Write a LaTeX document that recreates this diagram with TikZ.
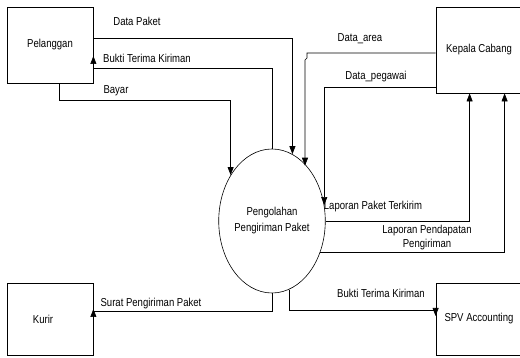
\documentclass[tikz,border=0pt]{standalone}
\usepackage{fontspec}
\setmainfont[FakeStretch=0.83]{Liberation Sans}
\usetikzlibrary{shapes.geometric,arrows.meta,calc}
\begin{document}
\begin{tikzpicture}[x=1pt,y=-1pt,
  every node/.style={font=\fontsize{11.5}{14}\selectfont},
  entity/.style={draw,line width=0.8pt,rectangle,inner sep=0pt},
  proc/.style={draw,line width=0.6pt,ellipse,inner sep=0pt,minimum width=102pt,minimum height=144pt,align=center,font=\fontsize{11.5}{16}\selectfont},
  flow/.style={line width=0.7pt},
  arr/.style={line width=0.7pt,-{Triangle[length=8pt,width=6pt]}},
  lbl/.style={inner sep=0pt}]
\useasboundingbox (0,0) rectangle (520,358);
\clip (0,0) rectangle (520,358);
\fill[white] (0,0) rectangle (520,358);
% entities
\node[entity,minimum width=86pt,minimum height=76pt] (pel) at (50,45) {Pelanggan};
\node[entity,minimum width=86pt,minimum height=86pt] (kep) at (479,50) {Kepala Cabang};
\node[entity,minimum width=86pt,minimum height=72pt] (kur) at (50,319) {\hspace*{-14pt}Kurir};
\node[entity,minimum width=86pt,minimum height=72pt] (spv) at (479,319) {SPV Accounting};
\node[proc] (p) at (272,221) {Pengolahan\\Pengiriman Paket};
% flows
\draw[arr] (pel.east |- 0,38) -| (p.73);
\draw[arr] (p.north) |- (pel.east |- 0,68) -- ($(pel.east)+(0,11)$);
\draw[arr] ($(pel.south)+(9,0)$) -- ++(0,17) -| (p.132);
\draw[arr] (kep.west |- 0,53) -- (307,53) -- (307,58) -- (305,60) -- (p.58 -| 305,0);
\draw[arr] (kep.west |- 0,87) -| (p.17);
\draw[arr] (p.east) -| ($(kep.south west)+(34,0)$);
\draw[arr] (p.-33) -| ($(kep.south west)+(69,0)$);
\draw[flow] (p.south) |- ($(kur.east)+(0,-8)$);
\draw[arr] (kur.east) -- ($(kur.east)+(0,-10)$);
\draw[arr] (p.-76) |- ($(spv.west)+(0,-9)$) -- ($(spv.west)+(0,-3)$);
% labels
\node[lbl] (l1) at (137,21) {Data Paket};
\node[lbl] (l2) at (147,58) {Bukti Terima Kiriman};
\node[lbl] (l3) at (116,91) {Bayar};
\node[lbl] (l4) at (360,39) {Data\_area};
\node[lbl] (l5) at (376,77) {Data\_pegawai};
\node[lbl] (l6) at (373,207) {Laporan Paket Terkirim};
\node[lbl,align=center] (l7) at (427,238) {Laporan Pendapatan\\Pengiriman};
\node[lbl] (l8) at (381,293) {Bukti Terima Kiriman};
\node[lbl] (l9) at (151,304) {Surat Pengiriman Paket};
\end{tikzpicture}
\end{document}
